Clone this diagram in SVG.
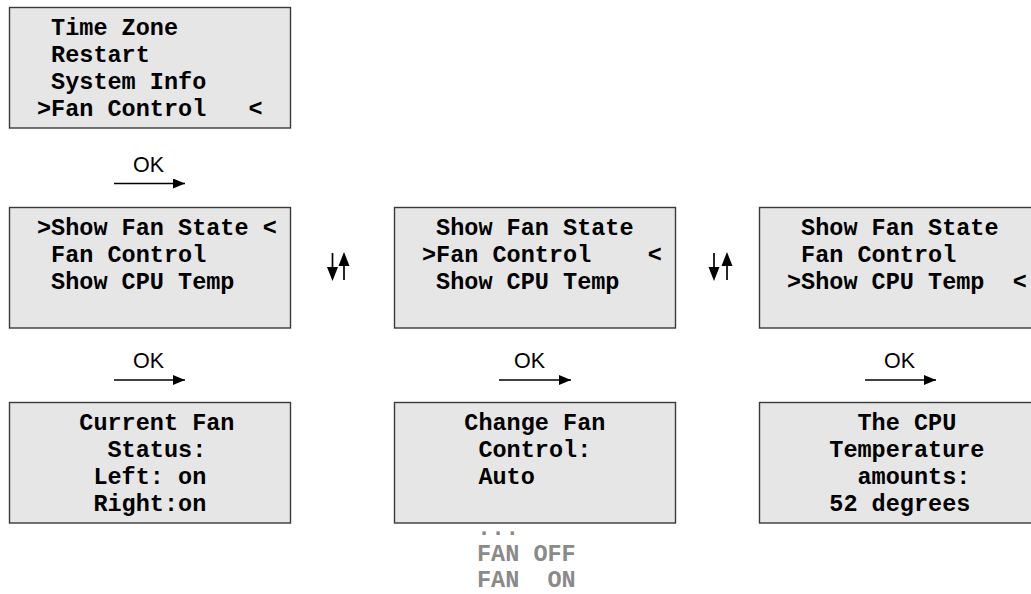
<svg xmlns="http://www.w3.org/2000/svg" width="1031" height="594" viewBox="0 0 1031 594">
<style>
.box{fill:#e6e6e6;stroke:#3a3a3a;stroke-width:1.4}
.lcd{font-family:"Liberation Mono","Courier New",monospace;font-weight:bold;font-size:23.5px;fill:#000;white-space:pre}
.opt{font-family:"Liberation Mono","Courier New",monospace;font-weight:bold;font-size:23.5px;fill:#8a8a8a;white-space:pre}
.ok{font-family:"Liberation Sans",Arial,sans-serif;font-size:21.5px;fill:#000}
.ln{stroke:#000;stroke-width:1.3;fill:none}
.vl{stroke:#000;stroke-width:1.7;fill:none}
</style>
<defs>
<marker id="ah" markerWidth="12" markerHeight="10" refX="12" refY="5" orient="auto" markerUnits="userSpaceOnUse">
<path d="M0,0 L12,5 L0,10 Z" fill="#000"/>
</marker>
</defs>

<g id="menu-top">
<rect class="box" x="9.5" y="7.5" width="281" height="120.5"/>
<text class="lcd" x="37" y="35"> Time Zone</text>
<text class="lcd" x="37" y="62"> Restart</text>
<text class="lcd" x="37" y="89"> System Info</text>
<text class="lcd" x="37" y="116">&gt;Fan Control   &lt;</text>
</g>

<g id="fan-menu-1">
<rect class="box" x="9.5" y="207.5" width="281" height="120.5"/>
<text class="lcd" x="37" y="235">&gt;Show Fan State &lt;</text>
<text class="lcd" x="37" y="262"> Fan Control</text>
<text class="lcd" x="37" y="289"> Show CPU Temp</text>
</g>

<g id="fan-menu-2">
<rect class="box" x="394.5" y="207.5" width="281" height="120.5"/>
<text class="lcd" x="422" y="235"> Show Fan State</text>
<text class="lcd" x="422" y="262">&gt;Fan Control    &lt;</text>
<text class="lcd" x="422" y="289"> Show CPU Temp</text>
</g>

<g id="fan-menu-3">
<rect class="box" x="759.5" y="207.5" width="281" height="120.5"/>
<text class="lcd" x="787" y="235"> Show Fan State</text>
<text class="lcd" x="787" y="262"> Fan Control</text>
<text class="lcd" x="787" y="289">&gt;Show CPU Temp  &lt;</text>
</g>

<g id="fan-status">
<rect class="box" x="9.5" y="402.5" width="281" height="120.5"/>
<text class="lcd" x="37" y="430">   Current Fan</text>
<text class="lcd" x="37" y="457">     Status:</text>
<text class="lcd" x="37" y="484">    Left: on</text>
<text class="lcd" x="37" y="511">    Right:on</text>
</g>

<g id="fan-control">
<rect class="box" x="394.5" y="402.5" width="281" height="120.5"/>
<text class="lcd" x="422" y="430">   Change Fan</text>
<text class="lcd" x="422" y="457">    Control:</text>
<text class="lcd" x="422" y="484">    Auto</text>
</g>

<g id="fan-options">
<text class="opt" x="477" y="535">...</text>
<text class="opt" x="477" y="561">FAN OFF</text>
<text class="opt" x="477" y="587">FAN  ON</text>
</g>

<g id="cpu-temp">
<rect class="box" x="759.5" y="402.5" width="281" height="120.5"/>
<text class="lcd" x="787" y="430">     The CPU</text>
<text class="lcd" x="787" y="457">   Temperature</text>
<text class="lcd" x="787" y="484">     amounts:</text>
<text class="lcd" x="787" y="511">   52 degrees</text>
</g>

<g id="connectors">
<text class="ok" x="133" y="172">OK</text>
<line class="ln" x1="114" y1="183.5" x2="185" y2="183.5" marker-end="url(#ah)"/>

<text class="ok" x="133" y="368">OK</text>
<line class="ln" x1="114" y1="380" x2="185" y2="380" marker-end="url(#ah)"/>
<text class="ok" x="514" y="368">OK</text>
<line class="ln" x1="499" y1="380" x2="571" y2="380" marker-end="url(#ah)"/>
<text class="ok" x="884" y="368">OK</text>
<line class="ln" x1="865" y1="380" x2="936" y2="380" marker-end="url(#ah)"/>

<line class="vl" x1="332.5" y1="253" x2="332.5" y2="270"/>
<path d="M327,267 L338,267 L332.5,281 Z" fill="#000"/>
<line class="vl" x1="344" y1="263" x2="344" y2="280"/>
<path d="M338.5,266 L349.5,266 L344,252 Z" fill="#000"/>

<line class="vl" x1="714" y1="253" x2="714" y2="270"/>
<path d="M708.5,267 L719.5,267 L714,281 Z" fill="#000"/>
<line class="vl" x1="727" y1="263" x2="727" y2="280"/>
<path d="M721.5,266 L732.5,266 L727,252 Z" fill="#000"/>
</g>
</svg>
